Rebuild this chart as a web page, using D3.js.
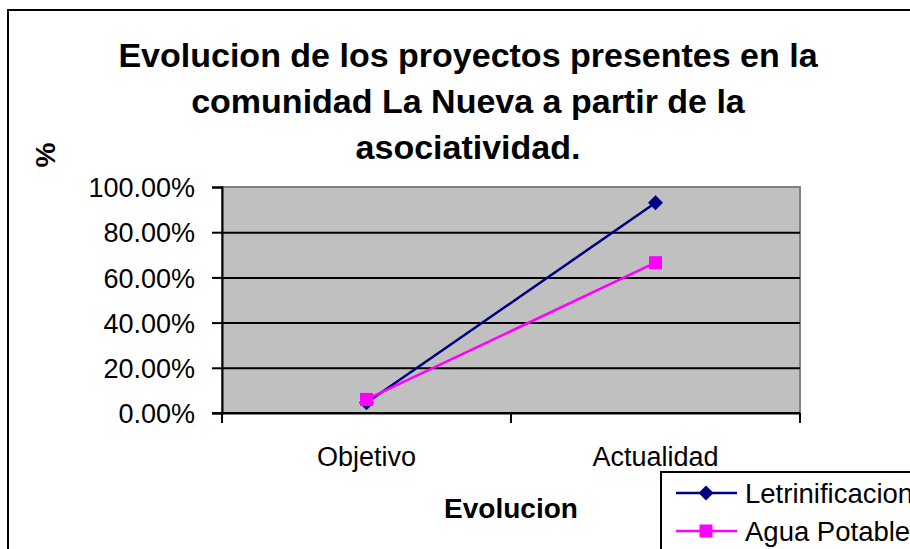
<!DOCTYPE html>
<html>
<head>
<meta charset="utf-8">
<script src="https://cdn.jsdelivr.net/npm/d3@7"></script>
<style>
    body { margin: 0; background: #fff; }
    svg { display: block; font-family: Arial, "Liberation Sans", sans-serif; }
</style>
</head>
<body>
<svg id="chart" width="910" height="549"></svg>
<script>
var categories = ['Objetivo', 'Actualidad'];
var letrinificacion = [0.045, 0.93];
var aguaPotable = [0.06, 0.665];
var yTicks = [0, 0.2, 0.4, 0.6, 0.8, 1.0];
var titleLines = ['Evolucion de los proyectos presentes en la', 'comunidad La Nueva a partir de la', 'asociatividad.'];
var seriesNames = ['Letrinificacion', 'Agua Potable'];

class LineChart {
    constructor(elemT) {
        this.elem = elemT;
        this.left = 222;
        this.right = 800;
        this.top = 187;
        this.bottom = 413;

        this.x = d3.scalePoint()
        .domain(categories)
        .range([this.left, this.right])
        .padding(0.5);

        this.y = d3.scaleLinear()
        .domain([0, 1])
        .range([this.bottom, this.top]);

        this.series = [
            {name: seriesNames[0], values: letrinificacion, color: '#000080', marker: 'diamond'},
            {name: seriesNames[1], values: aguaPotable, color: '#ff00ff', marker: 'square'}
        ];
    }

    dibujar() {
        this.dibujarMarco();
        this.dibujarEjes();
        this.dibujarLineas();
        this.dibujarLeyenda();
    }

    dibujarMarco() {
        this.elem.append('rect')
        .attr('width', 910).attr('height', 549).attr('fill', '#fff');

        this.elem.append('path')
        .attr('d', 'M8,549 V10 H910')
        .attr('fill', 'none')
        .attr('stroke', '#000')
        .attr('stroke-width', 2);

        this.elem.append('g').selectAll('text')
        .data(titleLines)
        .enter()
        .append('text')
        .attr('x', 468)
        .attr('y', (d, i) => 67 + i * 46)
        .attr('text-anchor', 'middle')
        .attr('font-size', 34)
        .attr('font-weight', 'bold')
        .text(d => d);
    }

    dibujarEjes() {
        // area del grafico
        this.elem.append('rect')
        .attr('x', this.left)
        .attr('y', this.top)
        .attr('width', this.right - this.left)
        .attr('height', this.bottom - this.top)
        .attr('fill', '#c0c0c0')
        .attr('stroke', '#808080')
        .attr('stroke-width', 2);

        this.elem.append('g')
        .attr('transform', 'translate(' + this.left + ',0)')
        .call(d3.axisLeft(this.y).tickValues(yTicks).tickSize(-(this.right - this.left)).tickFormat(''))
        .call(g => g.select('.domain').remove())
        .call(g => g.selectAll('line').attr('stroke', '#000').attr('stroke-width', 2))
        .call(g => g.selectAll('.tick').filter(d => d == 1).remove());

        var yAxis = this.elem.append('g')
        .attr('transform', 'translate(' + this.left + ',0)')
        .call(d3.axisLeft(this.y).tickValues(yTicks).tickSize(10).tickPadding(17).tickFormat(d3.format('.2%')))
        .attr('font-family', null)
        .attr('font-size', 27);
        yAxis.selectAll('line, .domain').attr('stroke', '#000').attr('stroke-width', 2);
        yAxis.selectAll('text').attr('fill', '#000').attr('dy', '0.36em');

        var bandEdges = [this.left, (this.left + this.right) / 2, this.right];
        var xAxis = this.elem.append('g');
        xAxis.append('line')
        .attr('x1', this.left - 10).attr('x2', this.right)
        .attr('y1', this.bottom).attr('y2', this.bottom)
        .attr('stroke', '#000').attr('stroke-width', 2);
        xAxis.selectAll('.xtick')
        .data(bandEdges)
        .enter()
        .append('line')
        .attr('x1', d => d).attr('x2', d => d)
        .attr('y1', this.bottom).attr('y2', this.bottom + 10)
        .attr('stroke', '#000').attr('stroke-width', 2);
        xAxis.selectAll('.xlabel')
        .data(categories)
        .enter()
        .append('text')
        .attr('x', d => this.x(d))
        .attr('y', 466)
        .attr('text-anchor', 'middle')
        .attr('font-size', 27)
        .text(d => d);

        this.elem.append('text')
        .attr('x', 511).attr('y', 518)
        .attr('text-anchor', 'middle')
        .attr('font-size', 28)
        .attr('font-weight', 'bold')
        .text('Evolucion');

        this.elem.append('text')
        .attr('transform', 'translate(55,155) rotate(-90)')
        .attr('text-anchor', 'middle')
        .attr('font-size', 28)
        .attr('font-weight', 'bold')
        .text('%');
    }

    marcador(sel, s) {
        if (s.marker == 'diamond') {
            var r = 7.5;
            sel.append('path')
            .attr('d', 'M0,' + (-r) + 'L' + r + ',0L0,' + r + 'L' + (-r) + ',0Z')
            .attr('fill', s.color);
        } else {
            var size = 13;
            sel.append('rect')
            .attr('x', -size / 2).attr('y', -size / 2)
            .attr('width', size).attr('height', size)
            .attr('fill', s.color);
        }
    }

    dibujarLineas() {
        var line = d3.line()
        .x((d, i) => this.x(categories[i]))
        .y(d => this.y(d));

        this.series.forEach(s => {
            var g = this.elem.append('g').attr('class', 'serie');
            g.append('path')
            .attr('d', line(s.values))
            .attr('fill', 'none')
            .attr('stroke', s.color)
            .attr('stroke-width', 2.5);

            s.values.forEach((v, i) => {
                var m = g.append('g')
                .attr('transform', 'translate(' + this.x(categories[i]) + ',' + this.y(v) + ')');
                this.marcador(m, s);
            });
        });
    }

    dibujarLeyenda() {
        var lg = this.elem.append('g').attr('class', 'leyenda');
        lg.append('rect')
        .attr('x', 661).attr('y', 472)
        .attr('width', 300).attr('height', 120)
        .attr('fill', '#fff')
        .attr('stroke', '#000')
        .attr('stroke-width', 2);

        this.series.forEach((s, i) => {
            var cy = 493 + i * 38;
            lg.append('line')
            .attr('x1', 676).attr('x2', 737)
            .attr('y1', cy).attr('y2', cy)
            .attr('stroke', s.color).attr('stroke-width', 2.5);
            var m = lg.append('g').attr('transform', 'translate(706,' + cy + ')');
            this.marcador(m, s);
            lg.append('text')
            .attr('x', 745).attr('y', cy + 10)
            .attr('font-size', 27.5)
            .text(s.name);
        });
    }
}

var chart = new LineChart(d3.select('#chart'));
chart.dibujar();
</script>
</body>
</html>
